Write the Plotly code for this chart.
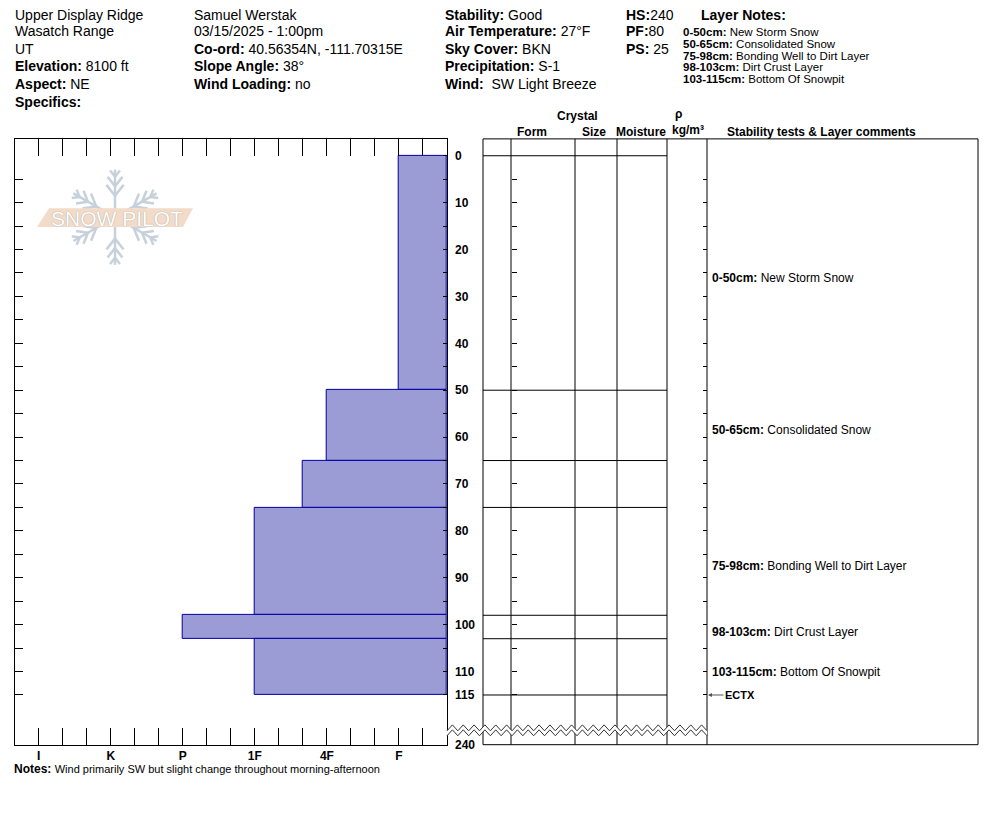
import math
import plotly.graph_objects as go

# ---- snow profile data ----
layer_top = [0, 50, 65, 75, 98, 103]
layer_bottom = [50, 65, 75, 98, 103, 115]
layer_hardness = ["F", "4F", "4F+", "1F", "P", "1F"]

note_top = [0, 50, 75, 98, 103]
note_bottom = [50, 65, 98, 103, 115]
note_text = ["New Storm Snow", "Consolidated Snow", "Bonding Well to Dirt Layer",
             "Dirt Crust Layer", "Bottom Of Snowpit"]

test_name = ["ECTX"]
test_depth = [115]

hardness_scale = ["I", "K", "P", "1F", "4F", "F"]
depth_ticks = [0, 10, 20, 30, 40, 50, 60, 70, 80, 90, 100, 110, 115]
total_depth = 240

# ---- header info ----
site = ["Upper Display Ridge", "Wasatch Range", "UT"]
site_fields = [("Elevation:", "8100 ft"), ("Aspect:", "NE"), ("Specifics:", "")]
observer = ["Samuel Werstak", "03/15/2025 - 1:00pm"]
obs_fields = [("Co-ord:", "40.56354N, -111.70315E"), ("Slope Angle:", "38°"),
              ("Wind Loading:", "no")]
weather_fields = [("Stability:", "Good"), ("Air Temperature:", "27°F"),
                  ("Sky Cover:", "BKN"), ("Precipitation:", "S-1"),
                  ("Wind:", "&nbsp;SW Light Breeze")]
pit_fields = [("HS:", "240"), ("PF:", "80"), ("PS:", " 25")]
notes = "Wind primarily SW but slight change throughout morning-afternoon"

# the page keeps an 8px body margin, so the figure fits inside it
PAD = 8
W, H = 994 - 2 * PAD, 840 - 2 * PAD
FONT = "Liberation Sans, Arial, sans-serif"


def fx(p):
    return (p - PAD) / W


def fy(p):
    return 1 - (p - PAD) / H


def hard_val(h):
    base = {"F": 1, "4F": 2, "1F": 3, "P": 4, "K": 5, "I": 6}
    v = base[h.rstrip("+-")]
    if h.endswith("+"):
        v += 1 / 3
    elif h.endswith("-"):
        v -= 1 / 3
    return v


edge = 1 / 3          # soft end of the hardness axis (right border)
d_top, d_bot = -3.6, 125.6   # depth range shown; bottom labelled with total depth

fig = go.Figure()

fig.add_trace(go.Bar(
    y=[(t + b) / 2 for t, b in zip(layer_top, layer_bottom)],
    x=[hard_val(h) - edge for h in layer_hardness],
    base=edge,
    width=[b - t for t, b in zip(layer_top, layer_bottom)],
    orientation="h",
    marker=dict(color="#9b9bd6", line=dict(color="#0000a0", width=1)),
    hoverinfo="skip", showlegend=False,
))
# invisible helpers so the overlaid depth axes get drawn
for ya in ("y2", "y3", "y4"):
    fig.add_trace(go.Scatter(x=[edge] * len(layer_top), y=layer_top, yaxis=ya,
                             mode="markers", marker=dict(opacity=0),
                             hoverinfo="skip", showlegend=False))

shapes = []
line_k = dict(color="black", width=1)

# crystal / comment table frame
col_px = [483, 511, 575, 617, 667, 707, 978]
for c in col_px:
    shapes.append(dict(type="line", xref="paper", yref="paper", x0=fx(c), x1=fx(c),
                       y0=fy(751), y1=fy(140), line=line_k))
for r in (140, 751):
    shapes.append(dict(type="line", xref="paper", yref="paper", x0=fx(483), x1=fx(978),
                       y0=fy(r), y1=fy(r), line=line_k))
# layer boundaries in the table
for d in sorted(set(layer_top + layer_bottom)):
    shapes.append(dict(type="line", xref="paper", yref="y", x0=fx(483), x1=fx(667),
                       y0=d, y1=d, line=line_k))

# zigzag break between last layer and total depth
n_zig = 24
x0z, x1z = 447, 707
up, lo = [], []
for i in range(2 * n_zig + 1):
    xx = x0z + (x1z - x0z) * i / (2 * n_zig)
    up.append((xx, 731 if i % 2 else 737))
    lo.append((xx, 736 if i % 2 else 742))
poly = "M " + " L ".join(f"{fx(a):.5f},{fy(b):.5f}" for a, b in up + lo[::-1]) + " Z"
shapes.append(dict(type="path", xref="paper", yref="paper", path=poly,
                   fillcolor="white", line=dict(width=0)))
for pts in (up, lo):
    p = "M " + " L ".join(f"{fx(a):.5f},{fy(b):.5f}" for a, b in pts)
    shapes.append(dict(type="path", xref="paper", yref="paper", path=p,
                       line=dict(color="#333", width=1)))

# watermark snowflake
cx, cy, rr = 115, 219, 48
flake = "#c6d1db"
segs = []
for k in range(6):
    a = math.radians(90 + 60 * k)
    ex, ey = cx + rr * math.cos(a), cy - rr * math.sin(a)
    segs.append((cx, cy, ex, ey))
    for f, ln in ((0.45, 14), (0.65, 12), (0.85, 8)):
        px_, py_ = cx + rr * f * math.cos(a), cy - rr * f * math.sin(a)
        for s in (-1, 1):
            b = a + s * math.radians(38)
            segs.append((px_, py_, px_ + ln * math.cos(b), py_ - ln * math.sin(b)))
for sx, sy, ex, ey in segs:
    shapes.append(dict(type="line", xref="paper", yref="paper", x0=fx(sx), y0=fy(sy),
                       x1=fx(ex), y1=fy(ey), line=dict(color=flake, width=2.5)))
banner = [(37, 229), (49, 210), (193, 210), (183, 229)]
shapes.append(dict(type="path", xref="paper", yref="paper",
                   path="M " + " L ".join(f"{fx(a):.5f},{fy(b):.5f}" for a, b in banner) + " Z",
                   fillcolor="#f2dbc8", line=dict(width=0)))

ann = []


def txt(x, y, s, size=14, anchor="left", **kw):
    ann.append(dict(x=fx(x), y=fy(y), xref="paper", yref="paper", text=s, showarrow=False,
                    xanchor=anchor, yanchor="middle",
                    font=dict(family=FONT, size=size, color=kw.pop("color", "black")), **kw))


ann.append(dict(x=fx(117), y=fy(220), xref="paper", yref="paper", text="SNOW PILOT",
                showarrow=False, xanchor="center", yanchor="middle",
                font=dict(family=FONT, size=21, color="white", shadow="0px 0px 1px #8a8a8a")))

# header
rows = [15, 31, 49, 67, 85, 103]
col1 = site + [f"<b>{a}</b> {b}" for a, b in site_fields]
col2 = observer + [f"<b>{a}</b> {b}" for a, b in obs_fields]
col3 = [f"<b>{a}</b> {b}" for a, b in weather_fields]
col4 = [f"<b>{a}</b>{b}" for a, b in pit_fields]
for xpos, col in ((14, col1), (193, col2), (444, col3), (625, col4)):
    for yy, s in zip(rows, col):
        txt(xpos, yy, s, borderpad=0)
txt(700, 15, "<b>Layer Notes:</b>", borderpad=0)
for i, (t, b, s) in enumerate(zip(note_top, note_bottom, note_text)):
    txt(682, 32 + 12 * i, f"<b>{t}-{b}cm:</b> {s}", size=11.5, borderpad=0)

# column headers
txt(577, 117, "<b>Crystal</b>", 12, "center", borderpad=0)
txt(532, 133, "<b>Form</b>", 12, "center", borderpad=0)
txt(594, 133, "<b>Size</b>", 12, "center", borderpad=0)
txt(641, 133, "<b>Moisture</b>", 12, "center", borderpad=0)
txt(678, 115, "<b>ρ</b>", 12, "center", borderpad=0)
txt(688, 131, "<b>kg/m³</b>", 12, "center", borderpad=0)
txt(726, 133, "<b>Stability tests &amp; Layer comments</b>", 12, borderpad=0)

# notes line
txt(13, 776, "<b>Notes:</b> <span style='font-size:11px'>" + notes + "</span>", 12,
    borderpad=0)

# layer comments
for t, b, s in zip(note_top, note_bottom, note_text):
    ann.append(dict(x=fx(710), y=(t + b) / 2, xref="paper", yref="y",
                    text=f"<b>{t}-{b}cm:</b> {s}", showarrow=False,
                    xanchor="left", yanchor="middle", yshift=-5,
                    font=dict(family=FONT, size=12, color="black")))
# stability tests
for nm, d in zip(test_name, test_depth):
    ann.append(dict(x=fx(708), y=d, xref="paper", yref="y", text=f"<b>{nm}</b>",
                    showarrow=True, ax=32, ay=0, arrowhead=2, arrowsize=0.8,
                    arrowwidth=1, arrowcolor="#555", standoff=0,
                    font=dict(family=FONT, size=11, color="black")))

tick_font = dict(family=FONT, size=12, color="black", weight="bold")
yrange = [d_bot, d_top]
five = list(range(5, 120, 5))
major_d = depth_ticks + [d_bot]

fig.update_layout(
    width=W, height=H, autosize=False,
    margin=dict(l=0, r=0, t=0, b=0),
    paper_bgcolor="white", plot_bgcolor="white",
    bargap=0, showlegend=False,
    xaxis=dict(
        domain=[fx(14.7), fx(447)], range=[6 + edge, edge],
        tickmode="array", tickvals=[hard_val(h) for h in hardness_scale],
        ticktext=hardness_scale, ticks="inside", ticklen=17, tickcolor="black",
        minor=dict(tickmode="array", tickvals=[i / 3 for i in range(1, 19)],
                   ticks="inside", ticklen=8, tickcolor="black"),
        showline=True, linecolor="black", linewidth=1, mirror="allticks",
        showgrid=False, zeroline=False, tickfont=tick_font, anchor="y",
        ticklabelstandoff=0, fixedrange=True,
    ),
    yaxis=dict(
        domain=[fy(751), fy(140)], range=yrange, anchor="x", side="left",
        tickmode="array", tickvals=five, ticks="inside", ticklen=8, tickcolor="black",
        showticklabels=False, showline=True, linecolor="black", mirror=True,
        showgrid=False, zeroline=False, fixedrange=True,
    ),
    yaxis2=dict(
        overlaying="y", anchor="x", side="right", range=yrange,
        tickmode="array", tickvals=major_d,
        ticktext=[str(d) for d in depth_ticks] + [str(total_depth)],
        ticks="inside", ticklen=4, tickcolor="black",
        minor=dict(tickmode="array", tickvals=[d for d in five if d % 10 and d < 115],
                   ticks="inside", ticklen=4, tickcolor="black"),
        showline=False, showgrid=False, zeroline=False, tickfont=tick_font,
        ticklabelstandoff=7, fixedrange=True,
    ),
    yaxis3=dict(
        overlaying="y", anchor="free", position=fx(511), side="left", range=yrange,
        tickmode="array", tickvals=five, ticks="inside", ticklen=5, tickcolor="black",
        showticklabels=False, showline=False, showgrid=False, zeroline=False,
    ),
    yaxis4=dict(
        overlaying="y", anchor="free", position=fx(707), side="right", range=yrange,
        tickmode="array", tickvals=five, ticks="inside", ticklen=4, tickcolor="black",
        showticklabels=False, showline=False, showgrid=False, zeroline=False,
    ),
    shapes=shapes,
    annotations=ann,
)

fig.write_html("out.html")
